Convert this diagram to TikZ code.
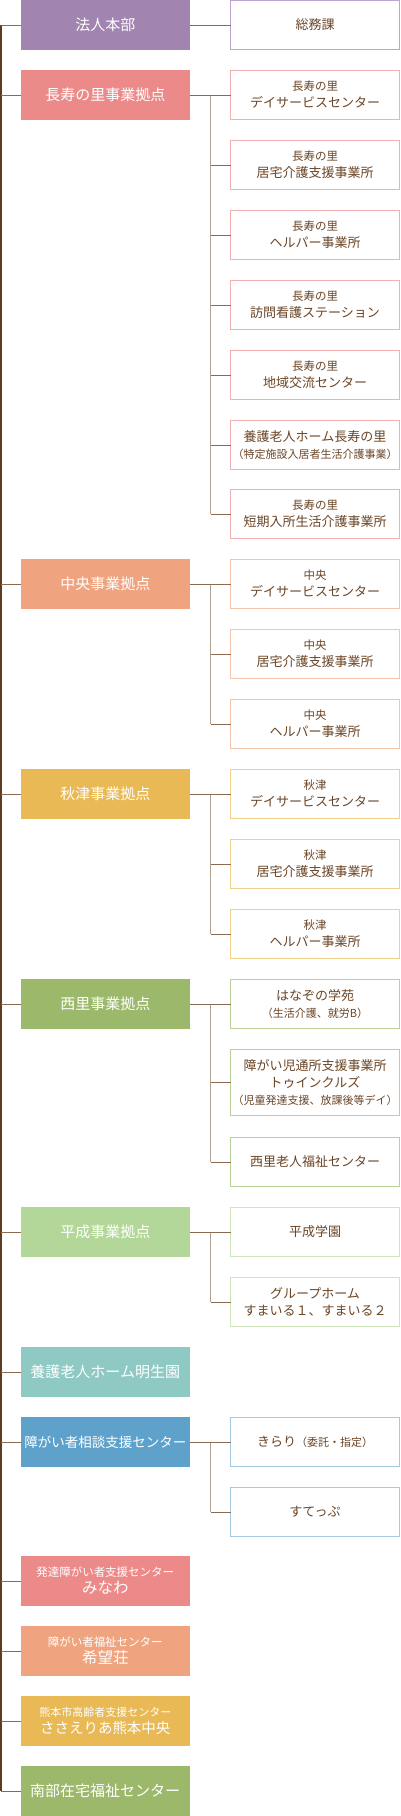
\documentclass[tikz,border=0pt]{standalone}
\usepackage{fontspec}
\setmainfont{Noto Sans CJK JP}
\definecolor{cPurple}{HTML}{A184B0}
\definecolor{cRose}{HTML}{EC8A8A}
\definecolor{cSalmon}{HTML}{EFA47F}
\definecolor{cOchre}{HTML}{E8B955}
\definecolor{cOlive}{HTML}{9CB86A}
\definecolor{cLeaf}{HTML}{B3D798}
\definecolor{cTeal}{HTML}{8FC9C4}
\definecolor{cBlue}{HTML}{5EA2CB}
\definecolor{bPurple}{HTML}{BDA5CB}
\definecolor{bRose}{HTML}{F2B0B0}
\definecolor{bSalmon}{HTML}{F5C5AA}
\definecolor{bOchre}{HTML}{F0D08A}
\definecolor{bOlive}{HTML}{BCD09A}
\definecolor{bLeaf}{HTML}{CFE6BD}
\definecolor{bBlue}{HTML}{A4C9E2}
\definecolor{ink}{HTML}{6B4526}
\definecolor{trunkc}{HTML}{5E3C1F}
\definecolor{stubc}{HTML}{8C6A4F}
\definecolor{railc}{HTML}{B0A092}
\newcommand\subtxt[1]{{\fontsize{11.5pt}{17pt}\selectfont #1}}
\newcommand\notetxt[1]{{\fontsize{11pt}{17pt}\selectfont #1}}
\newcommand\bigtxt[1]{{\fontsize{15.5pt}{17pt}\selectfont #1}}
\tikzset{
  base/.style={anchor=north west, inner sep=0pt, outer sep=0pt, align=center},
  hub/.style={base, fill=#1, minimum width=169.5pt, minimum height=50pt, text=white, font=\fontsize{15pt}{17pt}\selectfont},
  unit/.style={base, draw=#1, fill=white, line width=1pt, minimum width=169pt, minimum height=49pt, text=ink, font=\fontsize{13pt}{17pt}\selectfont},
  trunk/.style={line width=1.6pt, color=trunkc},
  stub/.style={line width=1pt, color=stubc},
  rail/.style={line width=1pt, color=railc},
}
\begin{document}
\begin{tikzpicture}[x=1pt, y=-1pt]
			%%%%% START %%%%%
			\useasboundingbox (0,0) rectangle (400,1816);
			
			%%%%% left column %%%%%
			\node[hub=cPurple] (hq) at (20.5,0) {法人本部};
			\node[hub=cRose] (choju) at (20.5,70) {長寿の里事業拠点};
			\node[hub=cSalmon] (chuo) at (20.5,559) {中央事業拠点};
			\node[hub=cOchre] (akitsu) at (20.5,769) {秋津事業拠点};
			\node[hub=cOlive] (nishi) at (20.5,979) {西里事業拠点};
			\node[hub=cLeaf] (heisei) at (20.5,1207) {平成事業拠点};
			\node[hub=cTeal] (meisei) at (20.5,1347) {養護老人ホーム明生園};
			\node[hub=cBlue, font=\fontsize{13.5pt}{17pt}\selectfont] (soudan) at (20.5,1417) {障がい者相談支援センター};
			\node[hub=cRose] (minawa) at (20.5,1556) {\subtxt{発達障がい者支援センター}\\\bigtxt{みなわ}};
			\node[hub=cSalmon] (kibou) at (20.5,1626) {\subtxt{障がい者福祉センター}\\\bigtxt{希望荘}};
			\node[hub=cOchre] (sasaeria) at (20.5,1696) {\notetxt{熊本市高齢者支援センター}\\{\fontsize{14.5pt}{17pt}\selectfont ささえりあ熊本中央}};
			\node[hub=cOlive] (nanbu) at (20.5,1766) {南部在宅福祉センター};
			
			%%%%% right column %%%%%
			\node[unit=bPurple] (soumu) at (230.5,0.5) {総務課};
			
			\node[unit=bRose] (cjDay) at (230.5,70.5) {\subtxt{長寿の里}\\デイサービスセンター};
			\node[unit=bRose] (cjKyotaku) at (230.5,140.5) {\subtxt{長寿の里}\\居宅介護支援事業所};
			\node[unit=bRose] (cjHelper) at (230.5,210.5) {\subtxt{長寿の里}\\ヘルパー事業所};
			\node[unit=bRose] (cjHoumon) at (230.5,280.5) {\subtxt{長寿の里}\\訪問看護ステーション};
			\node[unit=bRose] (cjKouryu) at (230.5,350.5) {\subtxt{長寿の里}\\地域交流センター};
			\node[unit=bRose] (cjYougo) at (230.5,420.5) {養護老人ホーム長寿の里\\\notetxt{（特定施設入居者生活介護事業）}};
			\node[unit=bRose] (cjShort) at (230.5,489.5) {\subtxt{長寿の里}\\短期入所生活介護事業所};
			
			\node[unit=bSalmon] (ckDay) at (230.5,559.5) {\subtxt{中央}\\デイサービスセンター};
			\node[unit=bSalmon] (ckKyotaku) at (230.5,629.5) {\subtxt{中央}\\居宅介護支援事業所};
			\node[unit=bSalmon] (ckHelper) at (230.5,699.5) {\subtxt{中央}\\ヘルパー事業所};
			
			\node[unit=bOchre] (akDay) at (230.5,769.5) {\subtxt{秋津}\\デイサービスセンター};
			\node[unit=bOchre] (akKyotaku) at (230.5,839.5) {\subtxt{秋津}\\居宅介護支援事業所};
			\node[unit=bOchre] (akHelper) at (230.5,909.5) {\subtxt{秋津}\\ヘルパー事業所};
			
			\node[unit=bOlive] (nsHanazono) at (230.5,979.5) {はなぞの学苑\\\notetxt{（生活介護、就労B）}};
			\node[unit=bOlive, minimum height=66pt] (nsTwinkle) at (230.5,1049.5) {障がい児通所支援事業所\\トゥインクルズ\\\notetxt{（児童発達支援、放課後等デイ）}};
			\node[unit=bOlive] (nsRoujin) at (230.5,1137.5) {西里老人福祉センター};
			
			\node[unit=bLeaf] (hsGakuen) at (230.5,1207.5) {平成学園};
			\node[unit=bLeaf] (hsGroup) at (230.5,1277.5) {グループホーム\\すまいる１、すまいる２};
			
			\node[unit=bBlue] (sdKirari) at (230.5,1417.5) {きらり\notetxt{（委託・指定）}};
			\node[unit=bBlue] (sdStep) at (230.5,1487.5) {すてっぷ};
			
			%%%%% trunk %%%%%
			\draw[trunk] ([xshift=-19.5pt]hq.west) -- ([xshift=-19.5pt]nanbu.west);
			\foreach \n in {hq,choju,chuo,akitsu,nishi,heisei,meisei,soudan,minawa,kibou,sasaeria,nanbu}
				\draw[stub] (\n.west) -- ++(-19.5,0);
			
			%%%%% branches %%%%%
			\draw[stub] (hq.east) -- (soumu.west);
			
			\draw[rail] ([xshift=-20pt]cjDay.west) -- ([xshift=-20pt]cjShort.west);
			\draw[rail] ([xshift=-20pt]ckDay.west) -- ([xshift=-20pt]ckHelper.west);
			\draw[rail] ([xshift=-20pt]akDay.west) -- ([xshift=-20pt]akHelper.west);
			\draw[rail] ([xshift=-20pt]nsHanazono.west) -- ([xshift=-20pt]nsRoujin.west);
			\draw[rail] ([xshift=-20pt]hsGakuen.west) -- ([xshift=-20pt]hsGroup.west);
			\draw[rail] ([xshift=-20pt]sdKirari.west) -- ([xshift=-20pt]sdStep.west);
			
			\draw[stub] (choju.east) -- (cjDay.west);
			\draw[stub] (chuo.east) -- (ckDay.west);
			\draw[stub] (akitsu.east) -- (akDay.west);
			\draw[stub] (nishi.east) -- (nsHanazono.west);
			\draw[stub] (heisei.east) -- (hsGakuen.west);
			\draw[stub] (soudan.east) -- (sdKirari.west);
			
			\foreach \n in {cjKyotaku,cjHelper,cjHoumon,cjKouryu,cjYougo,cjShort,ckKyotaku,ckHelper,akKyotaku,akHelper,nsTwinkle,nsRoujin,hsGroup,sdStep}
				\draw[stub] (\n.west) -- ++(-20,0);
			
			%%%%% END %%%%%
\end{tikzpicture}
\end{document}
